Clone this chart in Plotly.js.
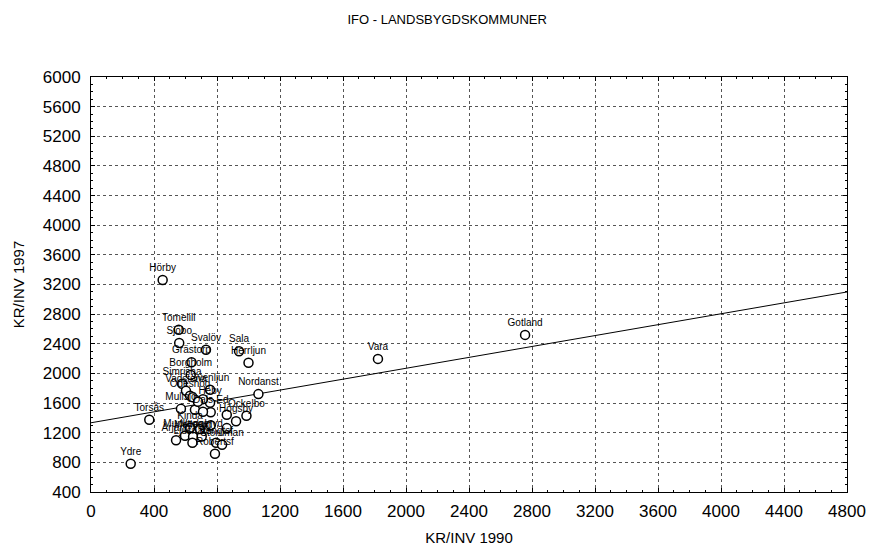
<!DOCTYPE html>
<html>
<head>
<meta charset="utf-8">
<script src="https://cdn.plot.ly/plotly-3.0.1.min.js"></script>
<style>html,body{margin:0;padding:0;background:#fff;}#chart{width:870px;height:554px;}</style>
</head>
<body>
<div id="chart"></div>
<script>
// Municipality labels (truncated to 8 chars as in the original)
const names = ["Hörby","Tomelill","Sjöbo","Svalöv","Grästorp","Sala","Herrljun","Borgholm",
  "Simrisha","Vadstena","Svenljun","Ödeshög","Heby","","Mullsjö","","Dals-Ed","","","",
  "Nordanst","Ockelbo","Högsby","","","Torsås","Munkedal","Årjäng","Mellerud","Vaggeryd",
  "Ljusnars","Bengtsf","Storuman","Robertsf","Ydre","Vara","Gotland","Kinda","",""];
// KR/INV 1990
const kr1990 = [455,557,560,730,638,940,1000,633,
  578,603,756,629,756,645,571,711,760,660,711,679,
  1063,987,921,862,862,370,597,540,648,703,
  644,794,832,787,252,1822,2756,629,760,690];
// KR/INV 1997
const kr1997 = [3260,2590,2410,2320,2150,2300,2145,1980,
  1860,1765,1780,1698,1603,1680,1522,1653,1475,1509,1482,1617,
  1721,1428,1354,1442,1262,1374,1159,1098,1145,1149,
  1064,1064,1037,916,781,2196,2520,1266,1300,1250];
// Regression line end points
const lineX = [0, 4800];
const lineY = [1334, 3099];

const xTicks = [0,400,800,1200,1600,2000,2400,2800,3200,3600,4000,4400,4800];
const yTicks = [400,800,1200,1600,2000,2400,2800,3200,3600,4000,4400,4800,5200,5600,6000];

const font = "Liberation Sans, Arial, sans-serif";

const traces = [
  {x: lineX, y: lineY, mode: "lines", line: {color: "#000", width: 1}, hoverinfo: "skip", showlegend: false},
  {x: kr1990, y: kr1997, text: names, mode: "markers+text", textposition: "top center",
   textfont: {family: font, size: 10, color: "#000"},
   marker: {symbol: "circle", size: 9, color: "#fff", line: {color: "#000", width: 1.5}},
   showlegend: false}
];

const axisCommon = {
  showline: true, linecolor: "#000", linewidth: 1, mirror: "allticks",
  ticks: "inside", ticklen: 4, tickcolor: "#000", tickwidth: 1,
  showgrid: true, gridcolor: "#555", gridwidth: 1, griddash: "dot",
  zeroline: false, tickfont: {family: font, size: 17, color: "#000"},
  minor: {ticks: "inside", ticklen: 2, tickcolor: "#000", dtick: 100, showgrid: false}
};

const layout = {
  width: 870, height: 554,
  margin: {l: 91, r: 23, t: 77, b: 62},
  paper_bgcolor: "#fff", plot_bgcolor: "#fff",
  title: {text: "IFO - LANDSBYGDSKOMMUNER", font: {family: font, size: 13, color: "#000"},
          x: 0.514, xanchor: "center", y: 0.965, yanchor: "middle"},
  xaxis: Object.assign({}, axisCommon, {range: [0, 4800], tickvals: xTicks, ticklabelstandoff: 4,
    title: {text: "KR/INV 1990", font: {family: font, size: 15, color: "#000"}, standoff: 12}}),
  yaxis: Object.assign({}, axisCommon, {range: [400, 6000], tickvals: yTicks, ticklabelstandoff: 6,
    title: {text: "KR/INV 1997", font: {family: font, size: 15, color: "#000"}, standoff: 14}})
};

Plotly.newPlot("chart", traces, layout, {staticPlot: true, displayModeBar: false});
</script>
</body>
</html>
